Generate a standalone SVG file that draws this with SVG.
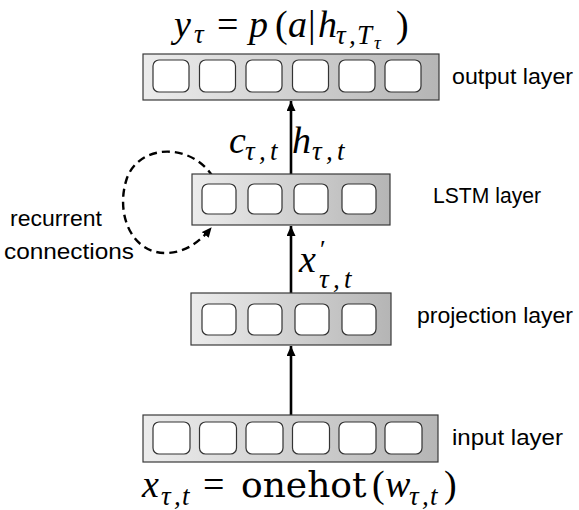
<svg xmlns="http://www.w3.org/2000/svg" width="579" height="510" viewBox="0 0 579 510">
  <style>
    .box { fill: url(#g); stroke: #3a3a3a; stroke-width: 1.2; }
    .cell { fill: #ffffff; stroke: #333333; stroke-width: 1.2; }
    .lbl { font-family: "Liberation Sans", Arial, sans-serif; font-size: 22px; fill: #000; }
    .math { font-family: "Liberation Serif", "Times New Roman", serif; font-style: italic; font-size: 38px; fill: #000; }
    .r { font-style: normal; }
    .s { font-size: 27px; }
    .ss { font-size: 19px; }
    .p { font-style: normal; font-size: 26px; }
    .op { font-family: "DejaVu Serif", serif; font-style: normal; font-size: 36px; }
    .arrow { stroke: #000; stroke-width: 2.6; fill: none; marker-end: url(#ah); }
    .loop { stroke: #000; stroke-width: 2.4; fill: none; stroke-dasharray: 8 5; marker-end: url(#ah2); }
  </style>
  <defs>
    <linearGradient id="g" x1="0" y1="0" x2="1" y2="0">
      <stop offset="0" stop-color="#ececec"/>
      <stop offset="1" stop-color="#b5b5b5"/>
    </linearGradient>
    <marker id="ah" markerUnits="userSpaceOnUse" markerWidth="10" markerHeight="9" refX="10" refY="4.5" orient="auto">
      <path d="M0,0 L10,4.5 L0,9 z" fill="#000"/>
    </marker>
    <marker id="ah2" markerUnits="userSpaceOnUse" markerWidth="10" markerHeight="9" refX="9" refY="4.5" orient="auto">
      <path d="M0,0 L10,4.5 L0,9 z" fill="#000"/>
    </marker>
  </defs>

  <g id="connectors">
    <line class="arrow" x1="291" y1="415" x2="291" y2="346"/>
    <line class="arrow" x1="291" y1="293" x2="291" y2="226"/>
    <line class="arrow" x1="291" y1="174" x2="291" y2="101"/>
    <path class="loop" d="M213,177 C192,143 140,143 127,178 C115,213 131,254 167,253 C188,252 201,240 211,228"/>
  </g>

  <g id="output-layer">
    <rect class="box" x="143" y="54" width="296" height="46"/>
    <rect class="cell" x="153" y="60" width="36" height="32" rx="6"/>
    <rect class="cell" x="199.5" y="60" width="36" height="32" rx="6"/>
    <rect class="cell" x="246" y="60" width="36" height="32" rx="6"/>
    <rect class="cell" x="292.5" y="60" width="36" height="32" rx="6"/>
    <rect class="cell" x="339" y="60" width="36" height="32" rx="6"/>
    <rect class="cell" x="385" y="60" width="36" height="32" rx="6"/>
    <text class="lbl" x="452" y="84" textLength="121" lengthAdjust="spacingAndGlyphs">output layer</text>
  </g>

  <g id="lstm-layer">
    <rect class="box" x="192" y="174" width="198" height="51"/>
    <rect class="cell" x="202" y="184" width="34" height="30" rx="6"/>
    <rect class="cell" x="248" y="184" width="34" height="30" rx="6"/>
    <rect class="cell" x="294" y="184" width="34" height="30" rx="6"/>
    <rect class="cell" x="342" y="184" width="34" height="30" rx="6"/>
    <text class="lbl" x="433" y="203" textLength="108" lengthAdjust="spacingAndGlyphs">LSTM layer</text>
  </g>

  <g id="projection-layer">
    <rect class="box" x="191" y="293" width="200" height="52"/>
    <rect class="cell" x="202" y="304" width="34" height="31" rx="6"/>
    <rect class="cell" x="248" y="304" width="34" height="31" rx="6"/>
    <rect class="cell" x="295" y="304" width="34" height="31" rx="6"/>
    <rect class="cell" x="342" y="304" width="34" height="31" rx="6"/>
    <text class="lbl" x="417" y="323" textLength="156" lengthAdjust="spacingAndGlyphs">projection layer</text>
  </g>

  <g id="input-layer">
    <rect class="box" x="143" y="415" width="295" height="47"/>
    <rect class="cell" x="153" y="422" width="37" height="32" rx="6"/>
    <rect class="cell" x="199.5" y="422" width="37" height="32" rx="6"/>
    <rect class="cell" x="246" y="422" width="37" height="32" rx="6"/>
    <rect class="cell" x="292.5" y="422" width="37" height="32" rx="6"/>
    <rect class="cell" x="339" y="422" width="37" height="32" rx="6"/>
    <rect class="cell" x="385" y="422" width="37" height="32" rx="6"/>
    <text class="lbl" x="452" y="445" textLength="111" lengthAdjust="spacingAndGlyphs">input layer</text>
  </g>

  <g id="recurrent-label">
    <text class="lbl" x="10" y="226" textLength="92" lengthAdjust="spacingAndGlyphs">recurrent</text>
    <text class="lbl" x="4" y="259" textLength="130" lengthAdjust="spacingAndGlyphs">connections</text>
  </g>

  <g id="formula-top">
    <text class="math"><tspan x="174" y="37">y</tspan><tspan class="s" x="194" y="43">τ</tspan><tspan class="r" x="217" y="37">=</tspan><tspan x="249" y="37">p</tspan><tspan class="r" x="275" y="37">(</tspan><tspan x="288" y="37">a</tspan><tspan class="r" x="308" y="37">|</tspan><tspan x="318" y="37">h</tspan><tspan class="s" x="336" y="44">τ</tspan><tspan class="s" x="349" y="44">,</tspan><tspan class="s" x="357" y="44">T</tspan><tspan class="ss" x="374" y="49">τ</tspan><tspan class="r" x="396" y="37">)</tspan></text>
  </g>

  <g id="formula-ch">
    <text class="math"><tspan x="229" y="153">c</tspan><tspan class="s" x="245" y="160">τ</tspan><tspan class="s" x="259" y="160">,</tspan><tspan class="s" x="270" y="160">t</tspan></text>
    <text class="math"><tspan x="292" y="153">h</tspan><tspan class="s" x="312" y="160">τ</tspan><tspan class="s" x="326" y="160">,</tspan><tspan class="s" x="337" y="160">t</tspan></text>
  </g>

  <g id="formula-x">
    <text class="math"><tspan x="299" y="272">x</tspan><tspan class="p" x="320" y="258">′</tspan><tspan class="s" x="319" y="288">τ</tspan><tspan class="s" x="333" y="288">,</tspan><tspan class="s" x="344" y="288">t</tspan></text>
  </g>

  <g id="formula-bottom">
    <text class="math"><tspan x="142" y="497">x</tspan><tspan class="s" x="161" y="505">τ</tspan><tspan class="s" x="174" y="505">,</tspan><tspan class="s" x="182" y="505">t</tspan><tspan class="r" x="203" y="497">=</tspan><tspan class="op" x="241" y="497">onehot</tspan><tspan class="r" x="372" y="497">(</tspan><tspan x="385" y="497">w</tspan><tspan class="s" x="409" y="505">τ</tspan><tspan class="s" x="422" y="505">,</tspan><tspan class="s" x="430" y="505">t</tspan><tspan class="r" x="444" y="497">)</tspan></text>
  </g>
</svg>
